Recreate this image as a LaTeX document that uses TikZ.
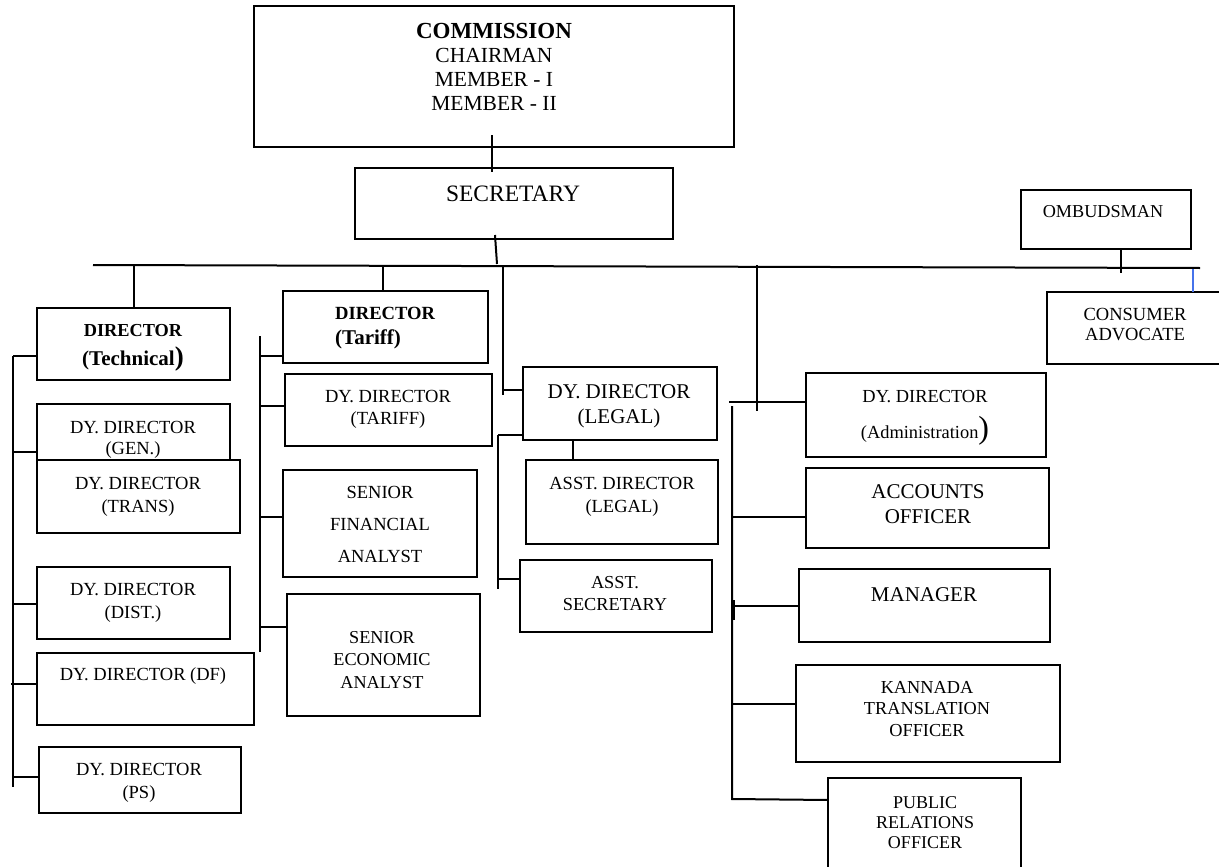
\documentclass[tikz,border=0pt]{standalone}
\usepackage{fontspec}
\setmainfont{Liberation Serif}
\newcommand\ml[3]{\fontsize{#1}{#2}\selectfont\begin{tabular}[t]{@{}c@{}}#3\end{tabular}}
\newcommand\mll[3]{\fontsize{#1}{#2}\selectfont\begin{tabular}[t]{@{}l@{}}#3\end{tabular}}
\newcommand\bx[5]{\node[box,minimum width={(#4-#2)*1pt},minimum height={(#5-#3)*1pt}] (#1) at ({(#2+#4)/2},{(#3+#5)/2}) {};}
\begin{document}
\begin{tikzpicture}[x=1pt,y=-1pt,
  box/.style={draw,line width=2pt,fill=white,inner sep=0pt,outer sep=0pt},
  txt/.style={inner sep=0pt,anchor=base},
  ln/.style={line width=2pt},
  blueln/.style={line width=1.6pt,draw={rgb,255:red,70;green,115;blue,235}}]
\useasboundingbox (0,0) rectangle (1219,867);
% boxes
\bx{bComm}{254}{6}{734}{147}
\bx{bSec}{355}{168}{673}{239}
\bx{bOmb}{1021}{190}{1191}{249}
\bx{bCons}{1047}{292}{1235}{364}
\bx{bTech}{37}{308}{230}{380}
\bx{bGen}{37}{404}{230}{476}
\bx{bTrans}{37}{460}{240}{533}
\bx{bDist}{37}{567}{230}{639}
\bx{bDf}{37}{653}{254}{725}
\bx{bPs}{39}{747}{241}{813}
\bx{bTar}{283}{291}{488}{363}
\bx{bDtar}{285}{374}{492}{446}
\bx{bSfa}{283}{470}{477}{577}
\bx{bSea}{287}{594}{480}{716}
\bx{bDleg}{523}{367}{717}{440}
\bx{bAdl}{526}{460}{718}{544}
\bx{bAsec}{520}{560}{712}{632}
\bx{bAdm}{806}{373}{1046}{457}
\bx{bAcc}{806}{468}{1049}{548}
\bx{bMan}{799}{569}{1050}{642}
\bx{bKan}{796}{665}{1060}{762}
\bx{bPro}{828}{778}{1021}{885}
% texts
\node[txt] (tComm) at (494,39) {\ml{21.5}{24}{{\fontsize{23}{24}\selectfont\bfseries COMMISSION}\\CHAIRMAN\\MEMBER - I\\MEMBER - II}};
\node[txt] (tSec) at (513,201) {\ml{23.5}{26}{SECRETARY}};
\node[txt] (tOmb) at (1103,217) {\ml{18.2}{21}{OMBUDSMAN}};
\node[txt] (tCons) at (1135,320) {\ml{18.5}{20}{CONSUMER\\ADVOCATE}};
\node[txt] (tTech) at (133,336) {\ml{18.3}{29}{\bfseries DIRECTOR\\{\fontsize{21}{29}\selectfont\bfseries (Technical\fontsize{27}{29}\selectfont)}}};
\node[txt] (tGen) at (133,433) {\ml{18.5}{21.5}{DY. DIRECTOR\\(GEN.)}};
\node[txt] (tTrans) at (138,489) {\ml{18.5}{23}{DY. DIRECTOR\\(TRANS)}};
\node[txt] (tDist) at (133,595) {\ml{18.5}{23}{DY. DIRECTOR\\(DIST.)}};
\node[txt] (tDf) at (143,680) {\ml{18.5}{23}{DY. DIRECTOR (DF)}};
\node[txt] (tPs) at (139,775) {\ml{18.5}{23}{DY. DIRECTOR\\(PS)}};
\node[txt,anchor=base west] (tTar) at (335,319) {\mll{18.6}{25}{\bfseries DIRECTOR\\{\fontsize{21}{25}\selectfont\bfseries (Tariff)}}};
\node[txt] (tDtar) at (388,402) {\ml{18.5}{22}{DY. DIRECTOR\\(TARIFF)}};
\node[txt] (tSfa) at (380,498) {\ml{18.5}{32}{SENIOR\\FINANCIAL\\ANALYST}};
\node[txt] (tSea) at (382,643) {\ml{18.2}{22.5}{SENIOR\\ECONOMIC\\ANALYST}};
\node[txt] (tDleg) at (619,398) {\ml{21}{25}{DY. DIRECTOR\\(LEGAL)}};
\node[txt] (tAdl) at (622,489) {\ml{18.5}{23}{ASST. DIRECTOR\\(LEGAL)}};
\node[txt] (tAsec) at (615,588) {\ml{18.3}{22}{ASST.\\SECRETARY}};
\node[txt] (tAdm) at (925,402) {\ml{18.4}{36}{DY. DIRECTOR\\(Administration{\fontsize{32}{36}\selectfont)}}};
\node[txt] (tAcc) at (928,498) {\ml{21}{25}{ACCOUNTS\\OFFICER}};
\node[txt] (tMan) at (924,601) {\ml{21}{25}{MANAGER}};
\node[txt] (tKan) at (927,693) {\ml{18.3}{21.5}{KANNADA\\TRANSLATION\\OFFICER}};
\node[txt] (tPro) at (925,808) {\ml{18}{20}{PUBLIC\\RELATIONS\\OFFICER}};
% coordinates
\coordinate (busL) at (93,265);
\coordinate (busR) at (1200,268);
\coordinate (cs1) at (492,135);
\coordinate (cs2) at (492,172);
\coordinate (sb1) at (495,235);
\coordinate (sb2) at (497,264);
% connectors
\draw[ln] (busL) -- (busR);
\draw[ln] (cs1) -- (cs2);
\draw[ln] (sb1) -- (sb2);
\draw[ln] (bTech.north) -- (bTech.north |- busL);
\draw[ln] (bTar.north -| 383,0) -- (383,265);
\draw[ln] (503,265) -- (503,395);
\draw[ln] (503,390) -- (bDleg.west |- 0,390);
\draw[ln] (757,265) -- (757,411);
\draw[ln] (729,402) -- (bAdm.west |- 0,402);
\draw[ln] (bOmb.south -| 1121,0) -- (1121,273);
\draw[blueln] (1193,269) -- (bCons.north -| 1193,0);
% technical spine
\draw[ln] (13,356) -- (13,787);
\draw[ln] (13,356) -- (bTech.west |- 0,356);
\draw[ln] (13,452) -- (bGen.west |- 0,452);
\draw[ln] (13,604) -- (bDist.west |- 0,604);
\draw[ln] (11,684) -- (bDf.west |- 0,684);
\draw[ln] (13,777) -- (bPs.west |- 0,777);
% tariff spine
\draw[ln] (260,336) -- (260,652);
\draw[ln] (260,356) -- (bTar.west |- 0,356);
\draw[ln] (260,406) -- (bDtar.west |- 0,406);
\draw[ln] (260,517) -- (bSfa.west |- 0,517);
\draw[ln] (260,627) -- (bSea.west |- 0,627);
% legal spine
\draw[ln] (498,435) -- (498,589);
\draw[ln] (498,435) -- (bDleg.west |- 0,435);
\draw[ln] (498,579) -- (bAsec.west |- 0,579);
\draw[ln] (bDleg.south -| 573,0) -- (bAdl.north -| 573,0);
% admin spine
\draw[ln] (732,406) -- (732,799) -- (bPro.west |- 0,800);
\draw[ln] (732,517) -- (bAcc.west |- 0,517);
\draw[ln] (732,606) -- (bMan.west |- 0,606);
\draw[ln] (732,704) -- (bKan.west |- 0,704);
\draw[line width=3pt] (733,600) -- (733,620);
\end{tikzpicture}
\end{document}
